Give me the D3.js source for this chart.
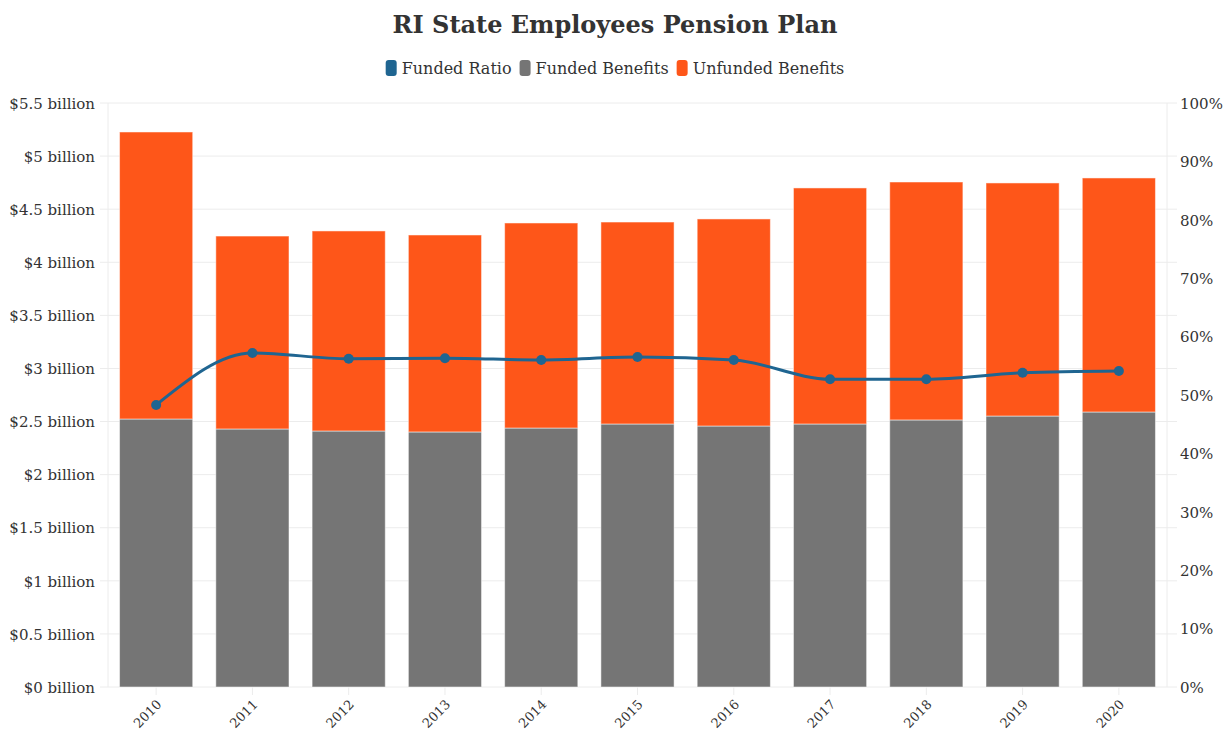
<!DOCTYPE html>
<html>
<head>
<meta charset="utf-8">
<script src="https://cdn.jsdelivr.net/npm/d3@7"></script>
<style>
  body { margin: 0; background: #fff; }
  svg text { font-family: "DejaVu Serif", serif; fill: #333; }
</style>
</head>
<body>
<div id="chart"></div>
<script>
// --- Data ---
const years = ["2010", "2011", "2012", "2013", "2014", "2015", "2016", "2017", "2018", "2019", "2020"];
const fundedBenefits   = [2.524, 2.430, 2.411, 2.402, 2.439, 2.477, 2.458, 2.477, 2.515, 2.552, 2.590];
const unfundedBenefits = [2.703, 1.817, 1.884, 1.855, 1.931, 1.902, 1.950, 2.223, 2.241, 2.195, 2.204];
const fundedRatio      = [48.3, 57.2, 56.2, 56.3, 56.0, 56.5, 56.0, 52.7, 52.7, 53.8, 54.1];
const leftTicks  = [0, 0.5, 1, 1.5, 2, 2.5, 3, 3.5, 4, 4.5, 5, 5.5];
const rightTicks = [0, 10, 20, 30, 40, 50, 60, 70, 80, 90, 100];

const colors = { ratio: "#1f6591", funded: "#757575", unfunded: "#fe5619" };

const W = 1231, H = 734;
const M = { left: 108, right: W - 1167, top: 103, bottom: H - 687 };

const svg = d3.select("#chart").append("svg")
  .attr("width", W).attr("height", H);

// --- Scales ---
const x = d3.scaleBand().domain(years)
  .range([M.left, W - M.right])
  .paddingInner(0.24).paddingOuter(0.12);
const y = d3.scaleLinear().domain([0, 5.5]).range([H - M.bottom, M.top]);
const y2 = d3.scaleLinear().domain([0, 100]).range([H - M.bottom, M.top]);

// --- Grid ---
svg.append("g").selectAll("line").data(leftTicks).join("line")
  .attr("x1", M.left - 8).attr("x2", W - M.right + 10)
  .attr("y1", d => y(d)).attr("y2", d => y(d))
  .attr("stroke", "#ececec");
svg.append("g").selectAll("line").data([M.left, W - M.right]).join("line")
  .attr("x1", d => d).attr("x2", d => d)
  .attr("y1", M.top).attr("y2", H - M.bottom)
  .attr("stroke", "#ececec");

// --- Axes ---
const fmtB = d => `$${d} billion`;
const yAxis = svg.append("g")
  .attr("transform", `translate(${M.left - 8},0)`)
  .call(d3.axisLeft(y).tickValues(leftTicks).tickFormat(fmtB).tickSize(0).tickPadding(5));
yAxis.select(".domain").remove();
yAxis.selectAll("text").style("font-size", "15px").attr("dy", "0.35em");

const y2Axis = svg.append("g")
  .attr("transform", `translate(${W - M.right + 10},0)`)
  .call(d3.axisRight(y2).tickValues(rightTicks).tickFormat(d => d + "%").tickSize(0).tickPadding(3));
y2Axis.select(".domain").remove();
y2Axis.selectAll("text").style("font-size", "15px").attr("dy", "0.35em");

const xAxis = svg.append("g")
  .attr("transform", `translate(0,${H - M.bottom})`)
  .call(d3.axisBottom(x).tickSize(8).tickPadding(4));
xAxis.select(".domain").remove();
xAxis.selectAll(".tick line").attr("stroke", "#ececec");
xAxis.selectAll("text")
  .style("font-size", "13px")
  .attr("text-anchor", "end")
  .attr("x", 0).attr("y", 0).attr("dy", "0.35em")
  .attr("transform", "translate(3,15) rotate(-45)");

// --- Bars ---
const bars = svg.append("g");
bars.selectAll("rect.funded").data(years).join("rect")
  .attr("class", "funded")
  .attr("x", d => x(d)).attr("width", x.bandwidth())
  .attr("y", (d, i) => y(fundedBenefits[i]))
  .attr("height", (d, i) => y(0) - y(fundedBenefits[i]))
  .attr("fill", colors.funded)
  .attr("stroke", "#fff").attr("stroke-opacity", 0.5).attr("stroke-width", 1);
bars.selectAll("rect.unfunded").data(years).join("rect")
  .attr("class", "unfunded")
  .attr("x", d => x(d)).attr("width", x.bandwidth())
  .attr("y", (d, i) => y(fundedBenefits[i] + unfundedBenefits[i]))
  .attr("height", (d, i) => y(fundedBenefits[i]) - y(fundedBenefits[i] + unfundedBenefits[i]))
  .attr("fill", colors.unfunded)
  .attr("stroke", "#fff").attr("stroke-opacity", 0.5).attr("stroke-width", 1);

// --- Funded ratio line ---
const cx = d => x(d) + x.bandwidth() / 2;
const line = d3.line()
  .x(d => cx(d[0])).y(d => y2(d[1]))
  .curve(d3.curveMonotoneX);
const pts = years.map((yr, i) => [yr, fundedRatio[i]]);
svg.append("path").datum(pts)
  .attr("d", line)
  .attr("fill", "none")
  .attr("stroke", colors.ratio)
  .attr("stroke-width", 3);
svg.append("g").selectAll("circle").data(pts).join("circle")
  .attr("cx", d => cx(d[0])).attr("cy", d => y2(d[1]))
  .attr("r", 5)
  .attr("fill", colors.ratio);

// --- Title ---
svg.append("text")
  .attr("x", 615).attr("y", 33)
  .attr("text-anchor", "middle")
  .style("font-size", "24px").style("font-weight", "bold")
  .style("fill", "#333")
  .text("RI State Employees Pension Plan");

// --- Legend ---
const legendItems = [
  { label: "Funded Ratio", color: colors.ratio },
  { label: "Funded Benefits", color: colors.funded },
  { label: "Unfunded Benefits", color: colors.unfunded }
];
const legend = svg.append("g").attr("transform", "translate(0,68)");
let lx = 0;
const items = legend.selectAll("g").data(legendItems).join("g");
items.append("rect")
  .attr("x", 0).attr("y", -8).attr("width", 11).attr("height", 16)
  .attr("rx", 3).attr("fill", d => d.color);
items.append("text")
  .attr("x", 16).attr("dy", "0.35em")
  .style("font-size", "16px")
  .text(d => d.label);
items.each(function () {
  const w = this.getBBox().width;
  d3.select(this).attr("transform", `translate(${lx},0)`);
  lx += w + 8;
});
legend.attr("transform", `translate(${615 - (lx - 8) / 2},68)`);
</script>
</body>
</html>
